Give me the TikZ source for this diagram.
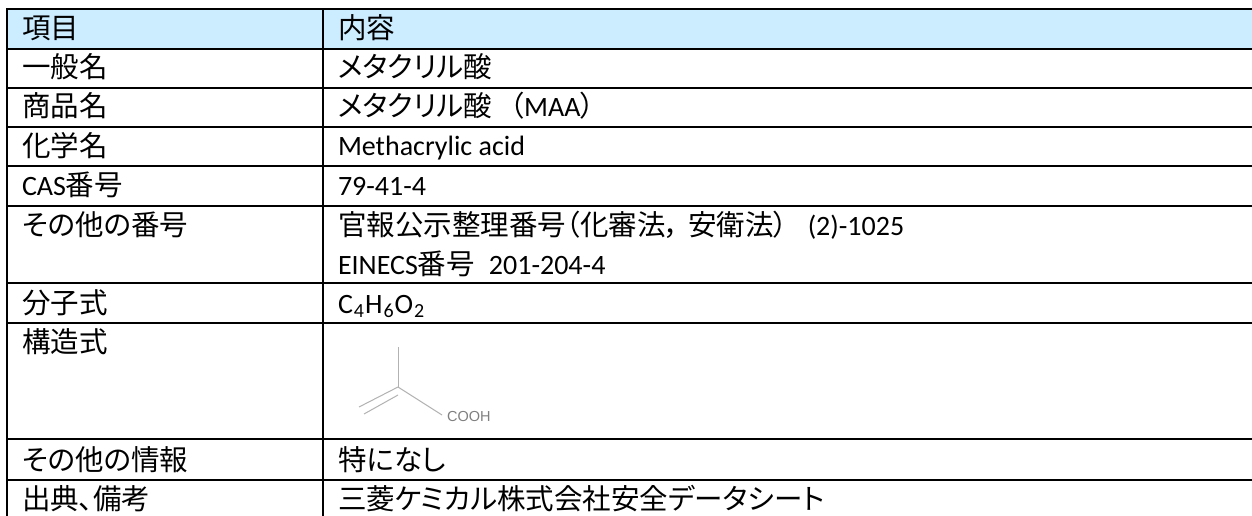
\documentclass[tikz,border=0pt]{standalone}
\usepackage{fontspec}
\setmainfont{Carlito}
\newfontfamily\cjk[RawFeature={+palt}]{Noto Sans CJK JP}
\newfontfamily\carl{Carlito}
\newcommand{\cj}{\cjk\fontsize{28.5}{33}\selectfont}
\newcommand{\la}{\carl\fontsize{28}{32}\selectfont}
\newcommand{\subn}[1]{\kern1pt\raisebox{-4pt}{\carl\fontsize{20}{22}\selectfont #1}\kern1pt}
\tikzset{
  grid/.style={line width=2pt,black,line cap=rect},
  lab/.style={anchor=base west,inner sep=0pt,outer sep=0pt,font=\cj},
  lat/.style={anchor=base west,inner sep=0pt,outer sep=0pt,font=\la},
  bond/.style={line width=1pt,black!30},
}
\begin{document}
\begin{tikzpicture}[x=1pt,y=-1pt]
\useasboundingbox (0,0) rectangle (1252,516);
\fill[fill=white] (0,0) rectangle (1252,516);
\fill[fill={rgb,255:red,204;green,236;blue,255}] (7,9) rectangle (1252,49);
\foreach \y in {9,49,88,127,166,206,283,323,439,480} \draw[grid] (7,\y) -- (1252,\y);
\draw[grid] (7,9) -- (7,516);
\draw[grid] (323,9) -- (323,516);
\node[lab] (h1) at (22,39) {項目};
\node[lab] (h2) at (338,39) {内容};
\node[lab] (a1) at (22,78) {一般名};
\node[lab] (b1) at (338,78) {メタクリル酸};
\node[lab] (a2) at (22,117) {商品名};
\node[lab] (b2) at (338,117) {メタクリル酸\kern18pt（\la MAA\cj ）};
\node[lab] (a3) at (22,156) {化学名};
\node[lat] (b3) at (338,155) {Methacrylic acid};
\node[lat] (a4) at (22,195) {CAS\cj 番号};
\node[lat] (b4) at (338,195) {79-41-4};
\node[lab] (a5) at (22,235) {その他の番号};
\node[lab] (b5) at (338,235) {官報公示整理番号（化審法，\kern8pt 安衛法）\kern20pt\la (2)-1025};
\node[lat] (b6) at (338,274) {EINECS\cj 番号\kern14pt\la 201-204-4};
\node[lab] (a7) at (22,313) {分子式};
\node[lat] (b7) at (338,313) {C\subn{4}H\subn{6}O\subn{2}};
\node[lab] (a8) at (22,352) {構造式};
\node[lab] (a9) at (22,470) {その他の情報};
\node[lab] (b9) at (338,470) {特になし};
\node[lab] (a10) at (22,509) {出典、備考};
\node[lab] (b10) at (338,509) {三菱ケミカル株式会社安全データシート};
\coordinate (c0) at (398,387);
\coordinate (c1) at (398,347);
\coordinate (c2) at (442,415);
\coordinate (d1) at (359,407);
\coordinate (d2) at (398,395);
\coordinate (d3) at (364,414);
\draw[bond] (c0) -- (c1);
\draw[bond] (c0) -- (c2);
\draw[bond] (c0) -- (d1);
\draw[bond] (d2) -- (d3);
\node[anchor=base west,inner sep=0pt,text=black!50,font=\fontsize{14.5}{16}\selectfont\fontspec{Liberation Sans}] (cooh) at (447,421) {COOH};
\end{tikzpicture}
\end{document}
